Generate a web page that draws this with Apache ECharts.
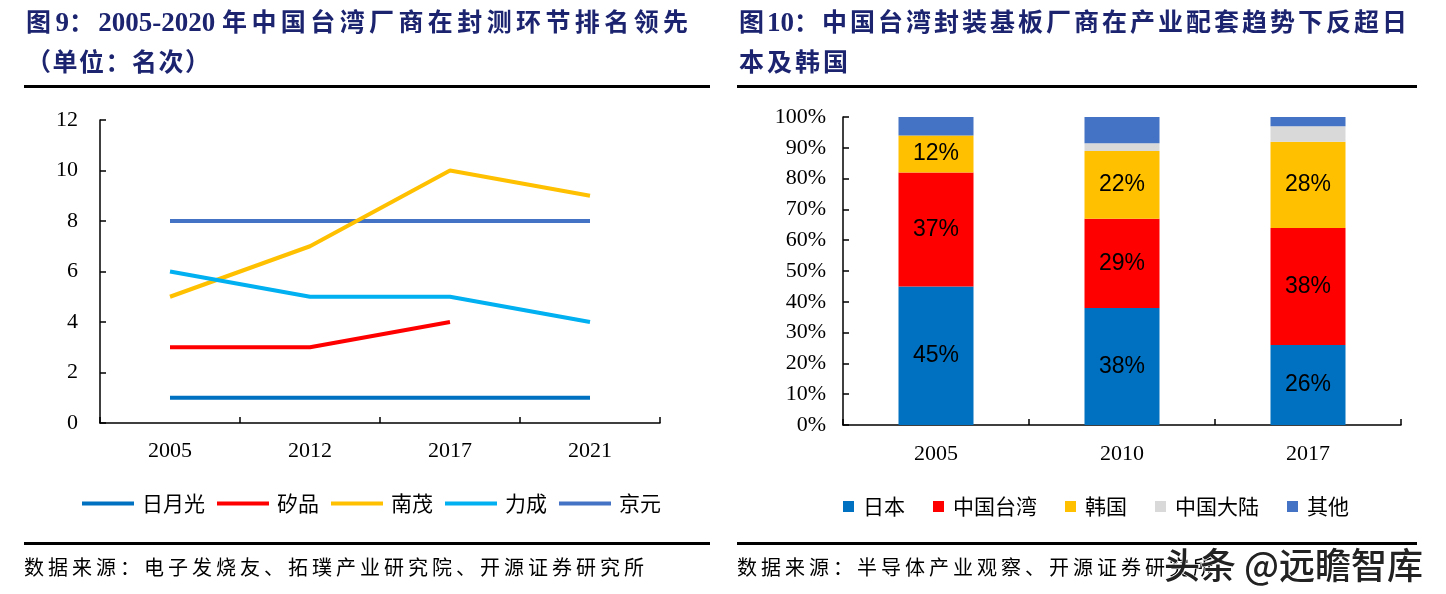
<!DOCTYPE html>
<html><head><meta charset="utf-8">
<script src="https://cdn.jsdelivr.net/npm/echarts@6/dist/echarts.min.js"></script>
<style>
html,body{margin:0;padding:0;background:#fff;}
#wrap{position:relative;width:1446px;height:594px;overflow:hidden;}
#chart{position:absolute;left:0;top:0;width:1446px;height:594px;}
.t{position:absolute;font-family:"Liberation Serif","Noto Sans CJK SC",serif;font-weight:bold;font-size:25px;color:#1C2470;letter-spacing:3px;white-space:nowrap;line-height:30px;}
.t .n{letter-spacing:0;font-size:27px;}
.s{position:absolute;font-family:"Noto Sans CJK SC",sans-serif;font-size:20px;color:#000;letter-spacing:4.0px;white-space:nowrap;line-height:24px;}
.rule{position:absolute;height:3px;background:#000;}
.wm{position:absolute;font-family:"Noto Sans CJK SC",sans-serif;font-weight:500;font-size:36px;color:#222;white-space:nowrap;-webkit-text-stroke:1.2px #fff;paint-order:stroke fill;line-height:40px;}
</style></head>
<body><div id="wrap">
<div id="chart"></div>
<div class="t" style="left:26px;top:7px;letter-spacing:4.4px;">图<span class="n">9</span>：<span class="n">2005-2020 </span>年中国台湾厂商在封测环节排名领先</div>
<div class="t" style="left:26px;top:48px;letter-spacing:1.5px;">（单位：名次）</div>
<div class="t" style="left:739px;top:7px;">图<span class="n">10</span>：中国台湾封装基板厂商在产业配套趋势下反超日</div>
<div class="t" style="left:739px;top:48px;">本及韩国</div>
<div class="rule" style="left:24px;top:85px;width:686px;"></div>
<div class="rule" style="left:737px;top:85px;width:680px;"></div>
<div class="rule" style="left:24px;top:542px;width:686px;"></div>
<div class="rule" style="left:737px;top:542px;width:680px;"></div>
<div class="s" style="left:24px;top:555px;">数据来源：电子发烧友、拓璞产业研究院、开源证券研究所</div>
<div class="s" style="left:737px;top:555px;">数据来源：半导体产业观察、开源证券研究所</div>
<div class="wm" style="left:1164px;top:543px;">头条 @远瞻智库</div>
</div>
<script>
// Left chart: rankings
const lineYears = ['2005', '2012', '2017', '2021'];
const rankASE = [1, 1, 1, 1];          // 日月光
const rankSPIL = [3, 3, 4, null];      // 矽品
const rankChipMOS = [5, 7, 10, 9];     // 南茂
const rankPTI = [6, 5, 5, 4];          // 力成
const rankKYEC = [8, 8, 8, 8];         // 京元
const lineNames = ['日月光', '矽品', '南茂', '力成', '京元'];
const lineColors = ['#0070C0', '#FF0000', '#FFC000', '#00B0F0', '#4472C4'];

// Right chart: substrate share
const barYears = ['2005', '2010', '2017'];
const shareJapan = [45, 38, 26];
const shareTaiwan = [37, 29, 38];
const shareKorea = [12, 22, 28];
const shareMainland = [0, 2.5, 5];
const shareOther = [6, 8.5, 3];
const barNames = ['日本', '中国台湾', '韩国', '中国大陆', '其他'];
const barColors = ['#0070C0', '#FF0000', '#FFC000', '#D9D9D9', '#4472C4'];

const serif = '"Liberation Serif", "Times New Roman", serif';
const cjk = '"Noto Sans CJK SC", sans-serif';
const axisLine = {show: true, lineStyle: {color: '#000', width: 1.5}};
const axisTick = {show: true, inside: true, length: 6, lineStyle: {color: '#000', width: 1.5}};

const lineData = [rankASE, rankSPIL, rankChipMOS, rankPTI, rankKYEC];
const barData = [shareJapan, shareTaiwan, shareKorea, shareMainland, shareOther];

const series = [];
lineData.forEach((d, i) => {
  series.push({
    name: lineNames[i], type: 'line', xAxisIndex: 0, yAxisIndex: 0,
    data: d, showSymbol: false, symbol: 'none', connectNulls: false,
    lineStyle: {width: 4, color: lineColors[i]}, itemStyle: {color: lineColors[i]},
    z: i === 4 ? 1 : 2
  });
});
barData.forEach((d, i) => {
  series.push({
    name: barNames[i], type: 'bar', stack: 'share', xAxisIndex: 1, yAxisIndex: 1,
    data: d, barWidth: 75, itemStyle: {color: barColors[i]},
    label: {show: i < 3, position: 'inside', color: '#000', fontSize: 23,
      fontFamily: '"Liberation Sans Narrow", "Liberation Sans", Arial, sans-serif',
      formatter: p => Math.round(p.value) + '%'}
  });
});

const chart = echarts.init(document.getElementById('chart'), null, {renderer: 'canvas'});
chart.setOption({
  animation: false,
  grid: [
    {left: 100, top: 120, width: 560, height: 303},
    {left: 843, top: 117, width: 558, height: 308}
  ],
  legend: [
    {data: lineNames, left: 77, top: 488, itemWidth: 52, itemHeight: 4, itemGap: 12,
      icon: 'rect', textStyle: {fontSize: 21, fontFamily: cjk, color: '#000', padding: [0, 0, 0, 3]}},
    {data: barNames, left: 838, top: 491, itemWidth: 11, itemHeight: 11, itemGap: 28,
      icon: 'rect', textStyle: {fontSize: 21, fontFamily: cjk, color: '#000', padding: [0, 0, 0, 4]}}
  ],
  xAxis: [
    {type: 'category', gridIndex: 0, data: lineYears, boundaryGap: true,
      axisLine, axisTick,
      axisLabel: {fontSize: 22, fontFamily: serif, color: '#000', margin: 17}},
    {type: 'category', gridIndex: 1, data: barYears, boundaryGap: true,
      axisLine, axisTick,
      axisLabel: {fontSize: 22, fontFamily: serif, color: '#000', margin: 18}}
  ],
  yAxis: [
    {type: 'value', gridIndex: 0, min: 0, max: 12, interval: 2,
      axisLine, axisTick, splitLine: {show: false},
      axisLabel: {fontSize: 22, fontFamily: serif, color: '#000', margin: 22}},
    {type: 'value', gridIndex: 1, min: 0, max: 100, interval: 10,
      axisLine, axisTick, splitLine: {show: false},
      axisLabel: {fontSize: 22, fontFamily: serif, color: '#000', margin: 17, formatter: '{value}%'}}
  ],
  series
});
</script>
</body></html>
